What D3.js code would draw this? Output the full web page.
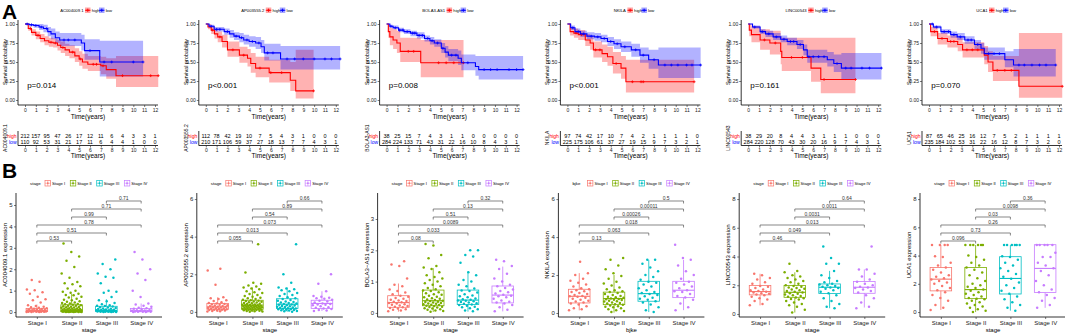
<!DOCTYPE html>
<html>
<head>
<meta charset="utf-8">
<script src="https://cdn.jsdelivr.net/npm/d3@7"></script>
<style>
body { margin: 0; background: #fff; }
svg { display: block; font-family: "Liberation Sans", Arial, sans-serif; }
</style>
</head>
<body>
<div id="wrapper"></div>
<script>
// ---- data ----
const genes = ["AC004009.1", "AP003555.2", "BOLA3-AS1", "NKILA", "LINC00543", "UCA1"];
const expressionLabels = ["AC004009.1 expression", "AP003555.2 expression", "BOLA3\u2212AS1 expression",
    "NKILA expression", "LINC00543 expression", "UCA1 expression"];
const kmPValues = ["p=0.014", "p<0.001", "p=0.008", "p<0.001", "p=0.161", "p=0.070"];
const yearTicks = [0, 1, 2, 3, 4, 5, 6, 7, 8, 9, 10, 11, 12];
const survTicks = [0, 0.25, 0.5, 0.75, 1];

const riskHigh = [
    [212, 157, 95, 47, 26, 17, 12, 11, 6, 4, 3, 3, 1],
    [112, 78, 42, 19, 10, 7, 5, 4, 3, 1, 0, 0, 0],
    [38, 25, 15, 7, 4, 3, 1, 1, 0, 0, 0, 0, 0],
    [97, 74, 42, 17, 10, 7, 4, 2, 1, 1, 1, 1, 0],
    [38, 29, 20, 8, 4, 4, 3, 1, 1, 1, 0, 0, 0],
    [87, 65, 46, 25, 16, 12, 7, 5, 2, 1, 1, 1, 1]
];
const riskLow = [
    [110, 92, 53, 31, 21, 17, 11, 6, 4, 4, 1, 0, 0],
    [210, 171, 106, 59, 37, 27, 18, 13, 7, 7, 4, 3, 1],
    [284, 224, 133, 71, 43, 31, 22, 16, 10, 8, 4, 3, 1],
    [225, 175, 106, 61, 37, 27, 19, 15, 9, 7, 3, 2, 1],
    [284, 220, 128, 70, 43, 30, 20, 16, 9, 7, 4, 3, 1],
    [235, 184, 102, 53, 31, 22, 16, 12, 8, 7, 3, 2, 0]
];

// Kaplan-Meier steps: time, survival, lower / upper CI, last follow-up, censor times
const highT = [
    [0, 0.3, 0.6, 1.0, 1.4, 1.8, 2.2, 2.6, 3.0, 3.3, 3.7, 4.1, 4.6, 5.0, 5.3, 5.8, 7.0, 7.5, 8.4],
    [0, 0.2, 0.5, 0.8, 1.1, 1.5, 2.0, 3.1, 3.85, 4.15, 4.6, 5.85, 7.8, 8.3],
    [0, 0.16, 0.3, 0.6, 0.95, 1.26, 3.15],
    [0, 0.25, 0.6, 1.0, 1.65, 2.1, 2.4, 3.2, 3.7, 4.2, 4.95, 5.4],
    [0, 0.1, 0.3, 1.1, 2.0, 3.0, 3.1, 5.8, 6.7],
    [0, 0.15, 0.8, 1.7, 2.65, 3.1, 5.1, 5.45, 5.9, 8.3]
];
const highS = [
    [1, 0.94, 0.89, 0.85, 0.81, 0.78, 0.76, 0.75, 0.72, 0.69, 0.66, 0.63, 0.58, 0.54, 0.5, 0.47, 0.45, 0.4, 0.32],
    [1, 0.96, 0.92, 0.87, 0.83, 0.77, 0.66, 0.59, 0.55, 0.48, 0.42, 0.36, 0.26, 0.12],
    [1, 0.9, 0.83, 0.79, 0.75, 0.64, 0.49],
    [1, 0.9, 0.88, 0.86, 0.79, 0.75, 0.66, 0.61, 0.57, 0.48, 0.42, 0.24],
    [1, 0.92, 0.86, 0.79, 0.75, 0.64, 0.56, 0.42, 0.27],
    [1, 0.9, 0.81, 0.77, 0.73, 0.66, 0.59, 0.5, 0.39, 0.18]
];
const highLo = [
    [1, 0.91, 0.85, 0.8, 0.76, 0.72, 0.7, 0.69, 0.65, 0.62, 0.58, 0.55, 0.5, 0.45, 0.41, 0.38, 0.34, 0.28, 0.17],
    [1, 0.93, 0.87, 0.81, 0.76, 0.69, 0.57, 0.49, 0.44, 0.36, 0.3, 0.23, 0.12, 0.02],
    [1, 0.82, 0.72, 0.67, 0.62, 0.5, 0.3],
    [1, 0.85, 0.82, 0.79, 0.71, 0.66, 0.56, 0.5, 0.45, 0.35, 0.28, 0.1],
    [1, 0.84, 0.76, 0.66, 0.6, 0.47, 0.38, 0.24, 0.09],
    [1, 0.84, 0.73, 0.69, 0.64, 0.56, 0.47, 0.37, 0.25, 0.03]
];
const highUp = [
    [1, 0.97, 0.93, 0.9, 0.87, 0.84, 0.82, 0.81, 0.79, 0.77, 0.74, 0.72, 0.68, 0.64, 0.61, 0.58, 0.57, 0.55, 0.58],
    [1, 1, 0.97, 0.93, 0.9, 0.86, 0.77, 0.7, 0.67, 0.62, 0.57, 0.53, 0.5, 0.66],
    [1, 0.99, 0.95, 0.93, 0.91, 0.82, 0.79],
    [1, 0.96, 0.94, 0.92, 0.87, 0.84, 0.77, 0.73, 0.7, 0.63, 0.58, 0.53],
    [1, 1, 0.97, 0.93, 0.91, 0.84, 0.82, 0.82, 0.82],
    [1, 0.96, 0.88, 0.85, 0.82, 0.76, 0.71, 0.64, 0.58, 0.88]
];
const highEnd = [12.3, 9.95, 7.1, 11.7, 9.9, 12.3];
const highCens = [
    [0.5, 1.2, 2.4, 2.8, 3.5, 4.4, 5.1, 6.3, 6.6, 7.2, 9.0, 11.6, 12.3],
    [0.6, 1.3, 2.5, 3.5, 5.0, 6.0, 7.0, 9.95],
    [2.0, 2.5, 4.8, 5.5, 6.2, 7.1],
    [0.8, 1.3, 2.6, 3.0, 4.5, 6.0, 6.8, 7.0, 11.7],
    [1.5, 2.5, 4.0, 5.0, 7.0, 9.9],
    [0.5, 1.2, 2.0, 2.3, 3.5, 4.0, 4.5, 6.3, 7.0, 7.6, 12.3]
];

const lowT = [
    [0, 0.4, 0.8, 1.3, 1.7, 2.1, 2.4, 2.8, 3.2, 5.2, 5.5, 6.9],
    [0, 0.3, 0.77, 1.7, 2.2, 2.6, 3.1, 3.5, 4.0, 4.6, 5.1, 5.4, 6.9],
    [0, 0.3, 0.6, 1.1, 1.6, 2.2, 2.8, 3.5, 4.0, 4.4, 5.05, 5.4, 5.7, 6.6, 6.9, 8.2, 8.5],
    [0, 0.3, 0.7, 1.2, 1.8, 2.5, 3.1, 3.7, 4.3, 4.95, 5.9, 6.7, 7.5, 8.4],
    [0, 0.4, 1.1, 1.6, 2.3, 3.0, 3.6, 4.5, 5.1, 5.45, 7.3, 7.9, 8.6],
    [0, 0.4, 1.1, 2.0, 2.6, 3.3, 4.2, 4.8, 5.1, 7.0, 7.8]
];
const lowS = [
    [1, 0.99, 0.98, 0.96, 0.94, 0.9, 0.87, 0.82, 0.79, 0.75, 0.65, 0.5],
    [1, 0.97, 0.93, 0.9, 0.87, 0.84, 0.82, 0.79, 0.77, 0.75, 0.7, 0.62, 0.54],
    [1, 0.97, 0.95, 0.92, 0.9, 0.88, 0.85, 0.81, 0.78, 0.75, 0.68, 0.63, 0.59, 0.55, 0.49, 0.44, 0.4],
    [1, 0.95, 0.9, 0.87, 0.84, 0.83, 0.81, 0.77, 0.74, 0.7, 0.66, 0.59, 0.53, 0.46],
    [1, 0.96, 0.9, 0.87, 0.83, 0.8, 0.77, 0.73, 0.66, 0.57, 0.53, 0.48, 0.42],
    [1, 0.96, 0.9, 0.86, 0.83, 0.79, 0.73, 0.68, 0.61, 0.53, 0.46]
];
const lowLo = [
    [1, 0.97, 0.95, 0.92, 0.89, 0.84, 0.8, 0.75, 0.71, 0.65, 0.53, 0.31],
    [1, 0.95, 0.9, 0.86, 0.82, 0.79, 0.76, 0.73, 0.7, 0.67, 0.62, 0.52, 0.4],
    [1, 0.95, 0.93, 0.89, 0.87, 0.84, 0.81, 0.77, 0.73, 0.7, 0.62, 0.56, 0.51, 0.46, 0.39, 0.32, 0.27],
    [1, 0.92, 0.87, 0.83, 0.8, 0.78, 0.76, 0.71, 0.67, 0.63, 0.57, 0.49, 0.41, 0.29],
    [1, 0.94, 0.87, 0.83, 0.79, 0.76, 0.72, 0.67, 0.59, 0.49, 0.44, 0.37, 0.27],
    [1, 0.94, 0.87, 0.82, 0.79, 0.74, 0.67, 0.61, 0.53, 0.43, 0.31]
];
const lowUp = [
    [1, 1, 1, 1, 0.99, 0.96, 0.94, 0.9, 0.88, 0.86, 0.8, 0.78],
    [1, 0.99, 0.96, 0.94, 0.92, 0.89, 0.88, 0.86, 0.84, 0.83, 0.79, 0.74, 0.71],
    [1, 0.99, 0.98, 0.95, 0.93, 0.91, 0.89, 0.85, 0.83, 0.8, 0.75, 0.71, 0.67, 0.65, 0.6, 0.58, 0.58],
    [1, 0.98, 0.94, 0.91, 0.89, 0.88, 0.86, 0.83, 0.8, 0.77, 0.74, 0.69, 0.66, 0.69],
    [1, 0.98, 0.93, 0.91, 0.88, 0.85, 0.82, 0.79, 0.73, 0.66, 0.63, 0.6, 0.62],
    [1, 0.98, 0.93, 0.9, 0.88, 0.84, 0.79, 0.75, 0.69, 0.64, 0.67]
];
const lowEnd = [10.9, 12.4, 12.6, 12.3, 12.3, 11.7];
const lowCens = [
    [0.2, 0.6, 1.0, 1.5, 2.0, 3.6, 4.0, 4.6, 6.0, 7.3, 8.0, 10.0, 10.9],
    [0.5, 1.0, 1.3, 2.0, 2.8, 3.3, 3.8, 4.3, 4.9, 5.7, 6.2, 7.5, 8.2, 9.0, 10.0, 11.0, 11.6, 12.4],
    [0.4, 0.8, 1.2, 1.5, 1.9, 2.4, 2.6, 3.0, 3.3, 3.8, 4.2, 4.7, 5.2, 6.0, 6.4, 7.5, 9.0, 9.6, 10.2, 11.3, 12.0, 12.6],
    [0.5, 1.0, 1.5, 2.2, 2.8, 3.4, 4.0, 4.6, 5.3, 6.3, 7.0, 8.0, 9.0, 9.6, 10.2, 11.0, 11.5, 12.3],
    [0.6, 1.3, 1.9, 2.6, 3.3, 3.9, 4.2, 4.8, 5.6, 6.0, 6.5, 7.0, 8.2, 9.0, 9.5, 10.5, 11.2, 12.3],
    [0.3, 0.7, 1.4, 1.8, 2.3, 2.9, 3.6, 3.9, 4.5, 5.5, 6.0, 6.5, 8.3, 8.8, 9.5, 10.2, 10.8, 11.7]
];

// expression by stage
const stages = ["Stage I", "Stage II", "Stage III", "Stage IV"];
const stageColors = ["#F8766D", "#7CAE00", "#00BFC4", "#C77CFF"];
const legendTitles = ["stage", "stage", "stage", "bjke", "stage", "stage"];
const yLimits = [[-0.23, 5.56], [-0.27, 6.32], [-0.13, 3.83], [-0.21, 6.32], [-0.21, 8.42], [-0.35, 8.43]];
const yTicks = [[0, 1, 2, 3, 4, 5], [0, 2, 4, 6], [0, 1, 2, 3], [0, 2, 4, 6], [0, 2, 4, 6, 8], [0, 2, 4, 6, 8]];
const comparisons = [[0, 1], [0, 2], [0, 3], [1, 2], [1, 3], [2, 3]];
const compPValues = [
    ["0.53", "0.51", "0.78", "0.99", "0.71", "0.71"],
    ["0.055", "0.013", "0.073", "0.54", "0.89", "0.66"],
    ["0.08", "0.033", "0.0089", "0.51", "0.13", "0.32"],
    ["0.13", "0.063", "0.018", "0.00026", "0.00011", "0.5"],
    ["0.46", "0.049", "0.013", "0.0031", "0.0011", "0.64"],
    ["0.096", "0.73", "0.26", "0.03", "0.0098", "0.36"]
];
// [lower whisker, Q1, median, Q3, upper whisker]
const boxStats = [
    [[0, 0.02, 0.06, 0.17, 0.35], [0, 0.03, 0.08, 0.34, 0.85], [0, 0.02, 0.07, 0.27, 0.6], [0, 0.02, 0.06, 0.17, 0.4]],
    [[0, 0.14, 0.27, 0.45, 0.78], [0, 0.14, 0.36, 0.62, 1.3], [0, 0.18, 0.41, 0.7, 1.3], [0.05, 0.18, 0.45, 0.62, 1.1]],
    [[0.04, 0.18, 0.33, 0.55, 0.94], [0.03, 0.23, 0.39, 0.73, 1.43], [0.04, 0.27, 0.41, 0.73, 1.32], [0.05, 0.32, 0.57, 0.86, 1.48]],
    [[0.14, 0.53, 0.88, 1.25, 2.1], [0.02, 0.44, 0.76, 1.1, 2.0], [0.05, 0.62, 1.02, 1.67, 2.8], [0.15, 0.81, 1.2, 1.67, 2.8]],
    [[0.6, 1.33, 1.56, 1.98, 2.8], [0.1, 1.16, 1.51, 1.98, 2.9], [0.4, 1.42, 1.86, 2.09, 3.0], [0.45, 1.44, 1.86, 2.26, 3.1]],
    [[0.15, 1.5, 2.33, 3.16, 4.75], [0, 0.95, 1.59, 3.16, 4.75], [0.1, 1.28, 2.38, 3.92, 4.75], [0.3, 1.38, 3.09, 4.77, 4.77]]
];
const boxPoints = [
    [
        [0, 0, 0, 0.01, 0.01, 0.02, 0.02, 0.03, 0.03, 0.04, 0.05, 0.05, 0.06, 0.07, 0.08, 0.09, 0.1, 0.11, 0.12, 0.14, 0.16, 0.18, 0.2, 0.22, 0.25, 0.28, 0.32, 0.45, 0.55, 0.6, 0.72, 0.85, 0.92, 1.02, 1.05, 1.42, 1.5],
        [0, 0, 0, 0, 0, 0.01, 0.01, 0.01, 0.02, 0.02, 0.02, 0.03, 0.03, 0.03, 0.04, 0.04, 0.05, 0.05, 0.06, 0.06, 0.07, 0.07, 0.08, 0.08, 0.09, 0.1, 0.1, 0.11, 0.12, 0.13, 0.14, 0.15, 0.16, 0.17, 0.18, 0.2, 0.21, 0.22, 0.24, 0.25, 0.27, 0.29, 0.3, 0.32, 0.34, 0.36, 0.38, 0.4, 0.42, 0.45, 0.48, 0.5, 0.55, 0.58, 0.62, 0.68, 0.72, 0.78, 0.8, 0.85, 0.9, 0.95, 1.0, 1.1, 1.2, 1.3, 1.35, 1.4, 1.6, 1.8, 2.1, 2.4, 2.6, 2.8, 3.2],
        [0, 0, 0, 0.01, 0.01, 0.02, 0.02, 0.03, 0.03, 0.04, 0.05, 0.05, 0.06, 0.07, 0.08, 0.08, 0.09, 0.1, 0.11, 0.12, 0.14, 0.15, 0.17, 0.19, 0.21, 0.23, 0.26, 0.28, 0.3, 0.32, 0.36, 0.42, 0.5, 0.55, 0.7, 0.9, 0.95, 1.0, 1.35, 1.6, 1.65, 1.8, 2.0, 2.25, 2.45],
        [0, 0, 0.01, 0.02, 0.02, 0.03, 0.04, 0.05, 0.06, 0.07, 0.08, 0.1, 0.12, 0.15, 0.18, 0.2, 0.25, 0.3, 0.35, 0.4, 0.7, 1.0, 1.5, 1.8, 2.0, 2.45, 2.8]
    ],
    [
        [0.02, 0.04, 0.05, 0.07, 0.08, 0.1, 0.11, 0.12, 0.14, 0.15, 0.17, 0.18, 0.2, 0.21, 0.23, 0.25, 0.26, 0.28, 0.3, 0.32, 0.34, 0.36, 0.38, 0.4, 0.42, 0.45, 0.48, 0.52, 0.58, 0.62, 0.68, 0.72, 0.78, 1.45, 2.2, 2.3],
        [0.01, 0.02, 0.03, 0.05, 0.06, 0.08, 0.09, 0.1, 0.11, 0.12, 0.13, 0.14, 0.15, 0.16, 0.17, 0.18, 0.19, 0.2, 0.21, 0.22, 0.23, 0.24, 0.25, 0.26, 0.27, 0.28, 0.29, 0.3, 0.31, 0.32, 0.33, 0.34, 0.35, 0.36, 0.37, 0.38, 0.4, 0.42, 0.44, 0.46, 0.48, 0.5, 0.52, 0.54, 0.56, 0.58, 0.6, 0.62, 0.65, 0.68, 0.72, 0.75, 0.8, 0.85, 0.9, 0.95, 1.0, 1.05, 1.1, 1.2, 1.25, 1.3, 1.35, 1.4, 1.5, 1.55, 2.1, 3.6],
        [0.01, 0.03, 0.05, 0.07, 0.09, 0.1, 0.12, 0.14, 0.15, 0.17, 0.18, 0.2, 0.22, 0.24, 0.26, 0.28, 0.3, 0.32, 0.34, 0.36, 0.38, 0.4, 0.42, 0.45, 0.48, 0.5, 0.53, 0.56, 0.6, 0.64, 0.68, 0.72, 0.78, 0.85, 0.9, 0.95, 1.0, 1.1, 1.15, 1.2, 1.25, 1.3, 1.55, 2.0, 3.6],
        [0.05, 0.08, 0.1, 0.15, 0.18, 0.22, 0.25, 0.3, 0.35, 0.38, 0.4, 0.42, 0.45, 0.5, 0.55, 0.6, 0.65, 0.7, 0.72, 0.75, 0.8, 0.85, 1.1, 1.5, 2.0]
    ],
    [
        [0.05, 0.08, 0.1, 0.12, 0.14, 0.16, 0.18, 0.2, 0.22, 0.24, 0.26, 0.28, 0.3, 0.32, 0.34, 0.36, 0.38, 0.4, 0.42, 0.45, 0.48, 0.52, 0.55, 0.6, 0.65, 0.7, 0.75, 0.85, 0.9, 1.1, 1.5, 1.55, 1.65],
        [0.04, 0.06, 0.08, 0.1, 0.12, 0.14, 0.15, 0.17, 0.19, 0.2, 0.22, 0.23, 0.25, 0.26, 0.28, 0.29, 0.3, 0.32, 0.33, 0.35, 0.36, 0.38, 0.39, 0.41, 0.43, 0.45, 0.47, 0.5, 0.52, 0.55, 0.58, 0.6, 0.63, 0.66, 0.7, 0.72, 0.76, 0.8, 0.85, 0.9, 0.95, 1.0, 1.05, 1.1, 1.15, 1.2, 1.3, 1.4, 1.45, 1.5, 1.75, 1.85, 2.15, 2.2],
        [0.05, 0.08, 0.12, 0.15, 0.18, 0.2, 0.23, 0.25, 0.27, 0.29, 0.31, 0.33, 0.35, 0.37, 0.39, 0.4, 0.42, 0.44, 0.46, 0.5, 0.53, 0.56, 0.6, 0.65, 0.7, 0.72, 0.78, 0.85, 0.9, 1.0, 1.05, 1.2, 1.3, 1.6, 1.8, 1.85, 2.0, 2.0],
        [0.05, 0.1, 0.18, 0.25, 0.3, 0.33, 0.36, 0.4, 0.45, 0.5, 0.53, 0.55, 0.58, 0.62, 0.66, 0.7, 0.75, 0.8, 0.85, 0.9, 1.0, 1.1, 1.25, 1.4, 1.5, 1.65, 1.7]
    ],
    [
        [0.15, 0.2, 0.25, 0.35, 0.45, 0.5, 0.55, 0.6, 0.65, 0.7, 0.75, 0.8, 0.85, 0.88, 0.9, 0.95, 1.0, 1.05, 1.1, 1.15, 1.2, 1.25, 1.3, 1.4, 1.5, 1.6, 1.7, 1.8, 2.0, 2.1, 2.7],
        [0.05, 0.1, 0.15, 0.2, 0.25, 0.3, 0.33, 0.36, 0.4, 0.43, 0.46, 0.5, 0.53, 0.56, 0.6, 0.62, 0.65, 0.68, 0.7, 0.72, 0.74, 0.76, 0.8, 0.83, 0.86, 0.9, 0.95, 1.0, 1.05, 1.1, 1.15, 1.2, 1.25, 1.35, 1.45, 1.55, 1.65, 1.8, 1.95, 2.1, 2.3, 2.5, 2.8, 2.9],
        [0.05, 0.15, 0.3, 0.45, 0.55, 0.62, 0.7, 0.75, 0.8, 0.88, 0.95, 1.0, 1.05, 1.1, 1.2, 1.3, 1.4, 1.5, 1.6, 1.65, 1.75, 1.9, 2.0, 2.2, 2.4, 2.6, 2.8, 2.8],
        [0.15, 0.3, 0.5, 0.7, 0.82, 0.9, 1.0, 1.1, 1.15, 1.2, 1.3, 1.4, 1.5, 1.6, 1.65, 1.8, 2.0, 2.2, 2.5, 2.8, 2.9, 3.6]
    ],
    [
        [0.6, 0.7, 0.9, 1.0, 1.1, 1.2, 1.3, 1.35, 1.4, 1.45, 1.5, 1.55, 1.6, 1.65, 1.7, 1.8, 1.9, 1.95, 2.1, 2.2, 2.4, 2.5, 2.7, 2.8],
        [0.1, 0.3, 0.5, 0.6, 0.7, 0.8, 0.9, 1.0, 1.05, 1.1, 1.15, 1.2, 1.25, 1.3, 1.35, 1.4, 1.45, 1.5, 1.55, 1.6, 1.65, 1.7, 1.75, 1.8, 1.85, 1.9, 1.95, 2.0, 2.1, 2.2, 2.3, 2.4, 2.5, 2.6, 2.7, 2.9, 3.0, 3.5],
        [0.4, 0.5, 0.7, 0.9, 1.1, 1.3, 1.45, 1.55, 1.65, 1.75, 1.8, 1.85, 1.9, 1.95, 2.0, 2.05, 2.1, 2.2, 2.3, 2.5, 2.7, 3.0, 3.5, 3.5, 3.9, 4.7],
        [0.4, 0.5, 0.8, 1.1, 1.3, 1.5, 1.6, 1.7, 1.8, 1.85, 1.9, 2.0, 2.1, 2.25, 2.4, 2.6, 2.8, 3.1, 3.1, 4.7]
    ],
    [
        [0.15, 0.3, 0.5, 0.8, 1.0, 1.2, 1.4, 1.55, 1.7, 1.85, 2.0, 2.1, 2.2, 2.3, 2.4, 2.5, 2.6, 2.8, 3.0, 3.15, 3.3, 3.5, 3.9, 3.95, 4.75, 4.75, 4.75, 4.75],
        [0, 0.1, 0.2, 0.3, 0.4, 0.5, 0.6, 0.7, 0.8, 0.9, 0.95, 1.0, 1.1, 1.2, 1.3, 1.4, 1.5, 1.6, 1.7, 1.8, 1.9, 2.0, 2.2, 2.4, 2.6, 2.8, 3.0, 3.15, 3.3, 3.5, 3.7, 3.9, 4.0, 4.75, 4.75, 4.75, 4.75, 4.75, 4.75],
        [0.1, 0.3, 0.5, 0.7, 0.9, 1.1, 1.3, 1.5, 1.7, 1.9, 2.1, 2.35, 2.5, 2.7, 2.9, 3.1, 3.3, 3.5, 3.7, 3.9, 3.95, 4.75, 4.75, 4.75, 4.75, 4.75, 4.75],
        [0.3, 0.5, 0.8, 1.0, 1.2, 1.4, 1.6, 1.9, 2.2, 2.6, 2.9, 3.1, 3.3, 3.5, 3.9, 3.9, 4.2, 4.75, 4.75, 4.75, 4.75, 4.75]
    ]
];

// ---- drawing ----
const width = 1065, height = 333;
const colW = 180.8;
const highColor = "#FF0000", lowColor = "#0000FF";

const svg = d3.select("#wrapper").append("svg")
    .attr("width", width)
    .attr("height", height);

svg.append("text").text("A").attr("x", 2).attr("y", 19)
    .attr("font-size", 21).attr("font-weight", "bold");
svg.append("text").text("B").attr("x", 2).attr("y", 178)
    .attr("font-size", 21).attr("font-weight", "bold");

function survAt(t, s, time) {
    let v = s[0];
    t.forEach((tt, j) => { if (tt <= time) v = s[j]; });
    return v;
}

function plusPath(px, py, r) {
    return `M${px - r},${py}H${px + r}M${px},${py - r}V${py + r}`;
}

function drawKM(i) {
    const ox = i * colW;
    const g = svg.append("g");
    const x = d3.scaleLinear().domain([0, 12]).range([ox + 25, ox + 155]);
    const y = d3.scaleLinear().domain([0, 1]).range([100, 24]);

    const curves = [
        { t: highT[i], s: highS[i], lo: highLo[i], up: highUp[i], end: highEnd[i], cens: highCens[i], color: highColor },
        { t: lowT[i], s: lowS[i], lo: lowLo[i], up: lowUp[i], end: lowEnd[i], cens: lowCens[i], color: lowColor }
    ];
    const stepPts = c => {
        const pts = c.t.map((tt, j) => ({ t: tt, s: c.s[j], lo: c.lo[j], up: c.up[j] }));
        const last = pts[pts.length - 1];
        pts.push({ t: c.end, s: last.s, lo: last.lo, up: last.up });
        return pts;
    };
    const band = d3.area().curve(d3.curveStepAfter)
        .x(d => x(d.t)).y0(d => y(d.lo)).y1(d => y(d.up));
    const line = d3.line().curve(d3.curveStepAfter)
        .x(d => x(d.t)).y(d => y(d.s));

    curves.forEach(c => {
        g.append("path").attr("d", band(stepPts(c)))
            .attr("fill", c.color).attr("fill-opacity", 0.3);
    });
    curves.forEach(c => {
        g.append("path").attr("d", line(stepPts(c)))
            .attr("fill", "none").attr("stroke", c.color).attr("stroke-width", 1.1);
        g.append("path")
            .attr("d", c.cens.map(ct => plusPath(x(ct), y(survAt(c.t, c.s, ct)), 1.4)).join(""))
            .attr("stroke", c.color).attr("stroke-width", 0.8);
    });

    // axes
    g.append("path").attr("d", `M${ox + 18},20V105H${ox + 158}`)
        .attr("fill", "none").attr("stroke", "#000").attr("stroke-width", 0.8);
    const yAxis = g.append("g").attr("transform", `translate(${ox + 18},0)`)
        .call(d3.axisLeft(y).tickValues(survTicks).tickFormat(d3.format(".2f")).tickSize(2).tickPadding(1));
    const xAxis = g.append("g").attr("transform", "translate(0,105)")
        .call(d3.axisBottom(x).tickValues(yearTicks).tickSize(2).tickPadding(1.5));
    [yAxis, xAxis].forEach(a => {
        a.select(".domain").remove();
        a.selectAll("text").attr("font-size", 5).attr("fill", "#222");
        a.selectAll("line").attr("stroke", "#222").attr("stroke-width", 0.6);
    });
    g.append("text").text("Time(years)")
        .attr("x", ox + 88).attr("y", 118.5)
        .attr("text-anchor", "middle").attr("font-size", 6.5);
    g.append("text").text("Survival probability")
        .attr("transform", `translate(${ox + 7},62) rotate(-90)`)
        .attr("text-anchor", "middle").attr("font-size", 5.5);
    g.append("text").text(kmPValues[i])
        .attr("x", x(0.2)).attr("y", y(0.18))
        .attr("dominant-baseline", "middle").attr("font-size", 8);

    // legend
    g.append("text").text(genes[i])
        .attr("x", ox + 83.5).attr("y", 11.5)
        .attr("text-anchor", "end").attr("font-size", 4.2);
    [["high", highColor, ox + 85], ["low", lowColor, ox + 99]].forEach(([lab, col, lx]) => {
        g.append("rect").attr("x", lx).attr("y", 7.5).attr("width", 5.5).attr("height", 5.5)
            .attr("fill", col).attr("fill-opacity", 0.35);
        g.append("path").attr("d", `M${lx},10.25H${lx + 5.5}` + plusPath(lx + 2.75, 10.25, 1.6))
            .attr("stroke", col).attr("stroke-width", 0.9);
        g.append("text").text(lab).attr("x", lx + 6.7).attr("y", 11.7).attr("font-size", 4.2);
    });

    // number at risk table
    const rows = [[riskHigh[i], "high", highColor, 136.5], [riskLow[i], "low", lowColor, 142.5]];
    rows.forEach(([vals, lab, col, ry]) => {
        g.append("text").text(lab).attr("x", ox + 16.5).attr("y", ry)
            .attr("text-anchor", "end").attr("dominant-baseline", "middle")
            .attr("font-size", 5).attr("fill", col);
        g.selectAll(null).data(vals).enter().append("text")
            .text(d => d)
            .attr("x", (d, k) => x(yearTicks[k])).attr("y", ry)
            .attr("text-anchor", "middle").attr("dominant-baseline", "middle")
            .attr("font-size", 5.5);
    });
    g.append("path").attr("d", `M${ox + 18},131V145.5H${ox + 158}`)
        .attr("fill", "none").attr("stroke", "#000").attr("stroke-width", 0.8);
    const tAxis = g.append("g").attr("transform", "translate(0,145.5)")
        .call(d3.axisBottom(x).tickValues(yearTicks).tickSize(2).tickPadding(1));
    tAxis.select(".domain").remove();
    tAxis.selectAll("text").attr("font-size", 5).attr("fill", "#222");
    tAxis.selectAll("line").attr("stroke", "#222").attr("stroke-width", 0.6);
    g.append("text").text("Time(years)")
        .attr("x", ox + 88).attr("y", 158)
        .attr("text-anchor", "middle").attr("font-size", 6.5);
    g.append("text").text(genes[i])
        .attr("transform", `translate(${ox + 7},138) rotate(-90)`)
        .attr("text-anchor", "middle").attr("font-size", 5);
}

function drawBox(i) {
    const ox = i * colW;
    const g = svg.append("g");
    const x = d3.scalePoint().domain(stages).range([ox + 16, ox + 162]).padding(0.6);
    const y = d3.scaleLinear().domain(yLimits[i]).range([317, 193]);
    const bw = x.step() * 0.62;

    // boxes
    stages.forEach((st, j) => {
        const [lo, q1, med, q3, hi] = boxStats[i][j];
        const cx = x(st), col = stageColors[j];
        g.append("path")
            .attr("d", `M${cx},${y(lo)}V${y(q1)}M${cx},${y(q3)}V${y(hi)}`)
            .attr("stroke", col).attr("stroke-width", 0.8);
        g.append("rect")
            .attr("x", cx - bw / 2).attr("y", y(q3))
            .attr("width", bw).attr("height", y(q1) - y(q3))
            .attr("fill", "none").attr("stroke", col).attr("stroke-width", 0.8);
        g.append("line")
            .attr("x1", cx - bw / 2).attr("x2", cx + bw / 2)
            .attr("y1", y(med)).attr("y2", y(med))
            .attr("stroke", col).attr("stroke-width", 1.1);
    });
    // jittered points
    stages.forEach((st, j) => {
        g.selectAll(null).data(boxPoints[i][j]).enter().append("circle")
            .attr("cx", (d, k) => x(st) + (((k * 0.6180339887 + j * 0.37) % 1) - 0.5) * bw * 0.95)
            .attr("cy", d => y(d))
            .attr("r", 1.25)
            .attr("fill", stageColors[j]);
    });

    // comparison brackets
    const top = y.range()[1];
    comparisons.forEach(([a, b], k) => {
        const by = top + 8 + 8 * (5 - k);
        g.append("path")
            .attr("d", `M${x(stages[a])},${by + 2.5}V${by}H${x(stages[b])}V${by + 2.5}`)
            .attr("fill", "none").attr("stroke", "#555").attr("stroke-width", 0.7);
        g.append("text").text(compPValues[i][k])
            .attr("x", (x(stages[a]) + x(stages[b])) / 2).attr("y", by - 1.5)
            .attr("text-anchor", "middle").attr("font-size", 5).attr("fill", "#333");
    });

    // axes
    g.append("path").attr("d", `M${ox + 16},193V317H${ox + 162}`)
        .attr("fill", "none").attr("stroke", "#000").attr("stroke-width", 0.8);
    const yAxis = g.append("g").attr("transform", `translate(${ox + 16},0)`)
        .call(d3.axisLeft(y).tickValues(yTicks[i]).tickFormat(d3.format("d")).tickSize(2).tickPadding(1.5));
    const xAxis = g.append("g").attr("transform", "translate(0,317)")
        .call(d3.axisBottom(x).tickSize(2).tickPadding(1.5));
    [yAxis, xAxis].forEach(a => {
        a.select(".domain").remove();
        a.selectAll("text").attr("font-size", 6).attr("fill", "#222");
        a.selectAll("line").attr("stroke", "#222").attr("stroke-width", 0.6);
    });
    g.append("text").text(legendTitles[i])
        .attr("x", ox + 89).attr("y", 331.5)
        .attr("text-anchor", "middle").attr("font-size", 6);
    g.append("text").text(expressionLabels[i])
        .attr("transform", `translate(${ox + 7},255) rotate(-90)`)
        .attr("text-anchor", "middle").attr("font-size", 6);

    // legend
    g.append("text").text(legendTitles[i])
        .attr("x", ox + 30).attr("y", 184.8).attr("font-size", 4.4);
    let lx = ox + 45;
    stages.forEach((st, j) => {
        const col = stageColors[j];
        g.append("rect").attr("x", lx).attr("y", 180.5).attr("width", 5.5).attr("height", 5.5)
            .attr("fill", "none").attr("stroke", col).attr("stroke-width", 0.7);
        g.append("path").attr("d", `M${lx + 2.75},180.5V186M${lx},183.25H${lx + 5.5}`)
            .attr("stroke", col).attr("stroke-width", 0.5);
        g.append("circle").attr("cx", lx + 2.75).attr("cy", 183.25).attr("r", 0.9).attr("fill", col);
        const t = g.append("text").text(st)
            .attr("x", lx + 7).attr("y", 184.8).attr("font-size", 4.2);
        lx += 7 + t.node().getComputedTextLength() + 5;
    });
}

genes.forEach((gname, i) => {
    drawKM(i);
    drawBox(i);
});
</script>
</body>
</html>
